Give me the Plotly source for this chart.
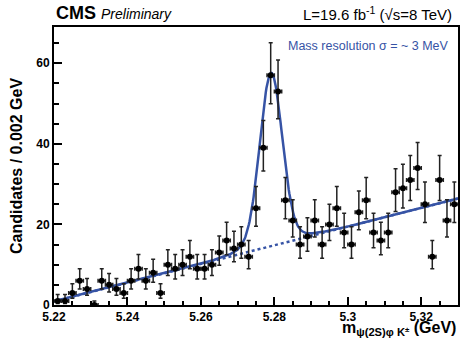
import numpy as np
import plotly.graph_objects as go

# ---- data ----
mass_lo = 5.22
bin_width = 0.002
counts = [1, 1, 3, 6, 4, 0, 6, 5, 4, 3,
          6, 9, 6, 8, 3, 10, 9, 10, 12, 9,
          9, 10, 13, 16, 14, 15, 12, 24, 39, 57,
          53, 26, 21, 15, 17, 21, 15, 20, 24, 18,
          15, 23, 26, 18, 16, 18, 28, 29, 31, 34,
          25, 12, 31, 21, 25]
x_tick_vals = [5.22, 5.24, 5.26, 5.28, 5.30, 5.32]
x_tick_text = ["5.22", "5.24", "5.26", "5.28", "5.3", "5.32"]
y_tick_vals = [0, 20, 40, 60]

# fit model parameters
peak_mass = 5.2791
sigma_narrow = 0.003
amp_narrow = 41.0
sigma_wide = 0.007
amp_wide = 2.0
bkg_at_lo = 0.9
bkg_slope = 232.0

centers = [mass_lo + bin_width * (i + 0.5) for i in range(len(counts))]
cnt = np.array(counts, dtype=float)
err_up = np.sqrt(cnt + 0.25) + 0.5
err_dn = np.sqrt(cnt + 0.25) - 0.5

m = np.linspace(5.22, 5.33, 600)
bkg = bkg_at_lo + bkg_slope * (m - mass_lo)
sig = amp_narrow * np.exp(-0.5 * ((m - peak_mass) / sigma_narrow) ** 2) + \
      amp_wide * np.exp(-0.5 * ((m - peak_mass) / sigma_wide) ** 2)
total = bkg + sig

BLUE = "#3653a5"

fig = go.Figure()
fig.add_trace(go.Scatter(x=m, y=bkg, mode="lines",
                         line=dict(color=BLUE, width=2.5, dash="3px,3px"),
                         hoverinfo="skip"))
fig.add_trace(go.Scatter(x=m, y=total, mode="lines",
                         line=dict(color=BLUE, width=2.5),
                         hoverinfo="skip"))
fig.add_trace(go.Scatter(
    x=centers, y=counts, mode="markers",
    marker=dict(color="black", size=6),
    error_y=dict(type="data", symmetric=False, array=err_up, arrayminus=err_dn,
                 color="#222222", thickness=1.5, width=2),
    error_x=dict(type="constant", value=bin_width / 2,
                 color="#222222", thickness=1.5, width=2),
))

fig.update_layout(
    width=461, height=340,
    margin=dict(l=54, r=1, t=27, b=35),
    paper_bgcolor="white", plot_bgcolor="white",
    showlegend=False,
    font=dict(family="Liberation Sans, Arial, sans-serif", color="black"),
    xaxis=dict(range=[5.22, 5.33], tickvals=x_tick_vals, ticktext=x_tick_text,
               ticks="inside", ticklen=8, tickwidth=1.5, tickcolor="black",
               minor=dict(dtick=0.005, ticks="inside", ticklen=4, tickwidth=1.5, tickcolor="black"),
               showline=True, linecolor="black", linewidth=2, mirror=True,
               showgrid=False, zeroline=False, ticklabelstandoff=0,
               tickfont=dict(size=12, family="Liberation Sans, Arial", weight="bold")),
    yaxis=dict(range=[0, 69], tickvals=y_tick_vals,
               ticks="inside", ticklen=8, tickwidth=1.5, tickcolor="black",
               minor=dict(dtick=5, ticks="inside", ticklen=5, tickwidth=1.5, tickcolor="black"),
               showline=True, linecolor="black", linewidth=2, mirror=True,
               showgrid=False, zeroline=False,
               tickfont=dict(size=12, family="Liberation Sans, Arial", weight="bold"),
               title=dict(text="<b>Candidates / 0.002 GeV</b>", font=dict(size=16), standoff=10)),
)

fig.add_annotation(xref="paper", yref="paper", x=0.0, y=1.0, yshift=14,
                   xanchor="left", yanchor="middle", showarrow=False,
                   text="<b>CMS</b> <i><span style='font-size:14px'>Preliminary</span></i>",
                   font=dict(size=18))
fig.add_annotation(xref="paper", yref="paper", x=1.0, y=1.0, yshift=14, xshift=-4,
                   xanchor="right", yanchor="middle", showarrow=False,
                   text="L=19.6 fb<sup>-1</sup> (√s=8 TeV)",
                   font=dict(size=15))
fig.add_annotation(xref="paper", yref="paper", x=0.575, y=0.93,
                   xanchor="left", yanchor="middle", showarrow=False,
                   text="Mass resolution σ = ~ 3 MeV",
                   font=dict(size=12.5, color=BLUE))
fig.add_annotation(xref="paper", yref="paper", x=1.0, y=0.0, yshift=-35,
                   xanchor="right", yanchor="bottom", showarrow=False,
                   text="<b>m<sub>ψ(2S)φ K<sup>±</sup></sub> (GeV)</b>",
                   font=dict(size=16))

fig.write_html("out.html")
